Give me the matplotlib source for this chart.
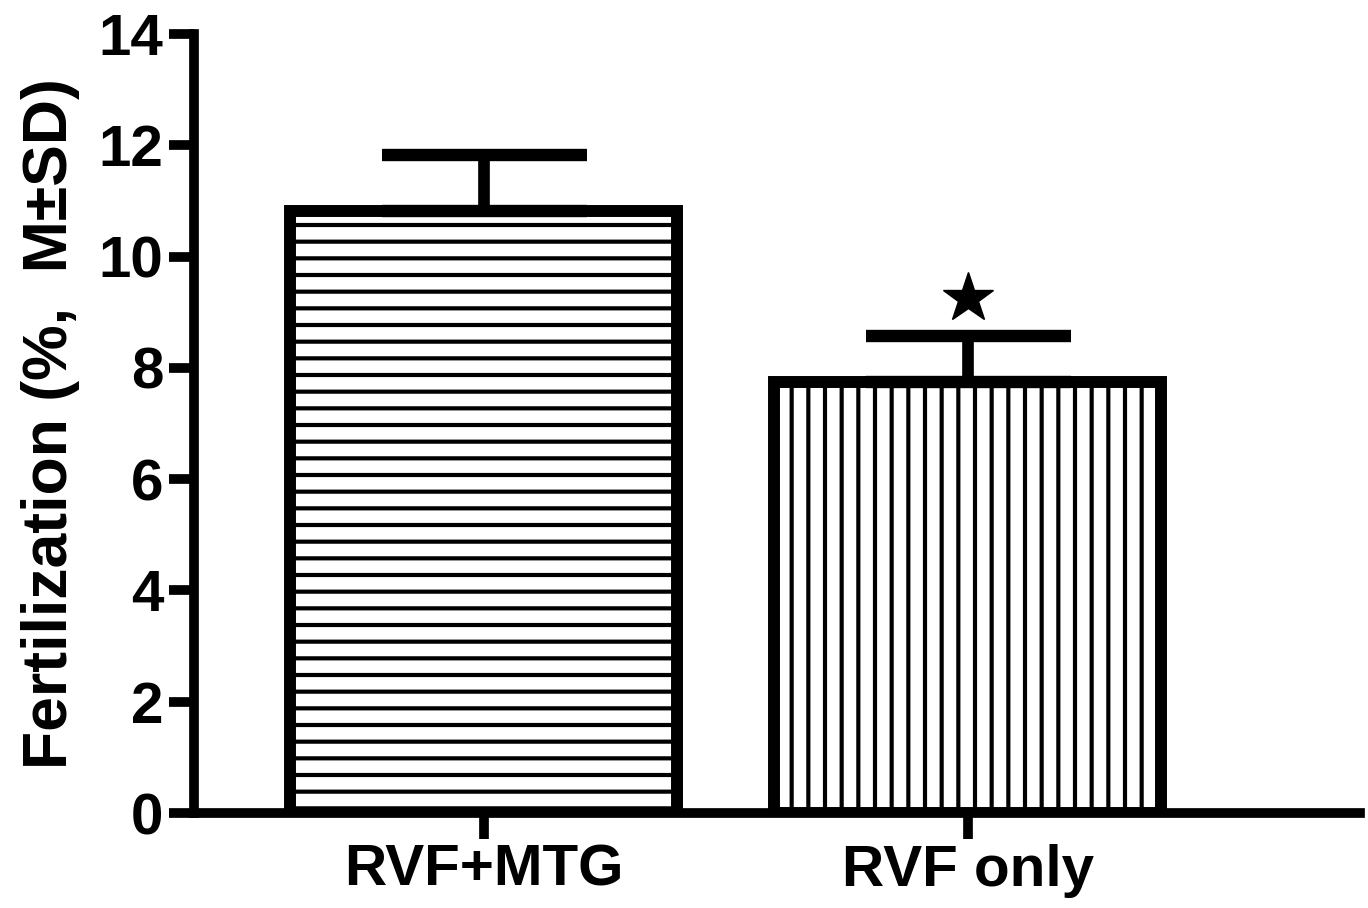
import matplotlib
matplotlib.use("Agg")
import matplotlib.pyplot as plt

# data
groups = ['RVF+MTG', 'RVF only']
means = [10.81, 7.75]
sds = [1.02, 0.83]
hatches = ['-', '|']
signif = [False, True]

plt.rcParams['font.family'] = ['Liberation Sans', 'DejaVu Sans']
plt.rcParams['font.weight'] = 'bold'
plt.rcParams['hatch.linewidth'] = 3.0
plt.rcParams['hatch.color'] = 'black'

fig = plt.figure(figsize=(13.68, 9.08), dpi=100)
ax = fig.add_axes([0.1418, 0.1046, 0.8523, 0.858])

x = list(range(len(groups)))
ax.bar(x, means, width=0.8, color='white', edgecolor='black',
       linewidth=8.6, hatch=hatches, zorder=2)
# only the upper half of the SD is drawn
ax.errorbar(x, means, yerr=[[0] * len(sds), sds], fmt='none', ecolor='black',
            elinewidth=8.4, capsize=73.8, capthick=8.9, zorder=3)

# star over the significant group
for xi, m, s, flag in zip(x, means, sds, signif):
    if flag:
        ax.plot(xi, m + s + 0.68, marker='*', markersize=38, color='black',
                linestyle='none', zorder=4)

ax.set_xlim(-0.599, 1.81)
ax.set_ylim(0, 14)
ax.set_yticks(range(0, 15, 2))
ax.set_xticks(x)
ax.set_xticklabels(groups)

for side in ['top', 'right']:
    ax.spines[side].set_visible(False)
for side in ['left', 'bottom']:
    ax.spines[side].set_linewidth(7)
    ax.spines[side].set_capstyle('projecting')

ax.tick_params(axis='y', length=18, width=7, pad=4, labelsize=42)
ax.tick_params(axis='x', length=19, width=7, pad=3, labelsize=42)
for lab in ax.get_xticklabels() + ax.get_yticklabels():
    lab.set_fontweight('bold')

ax.set_ylabel('Fertilization (%,  M±SD)', fontsize=45, fontweight='bold')
ax.yaxis.set_label_coords(-0.098, 0.5)

fig.savefig('out.png', dpi=100)
